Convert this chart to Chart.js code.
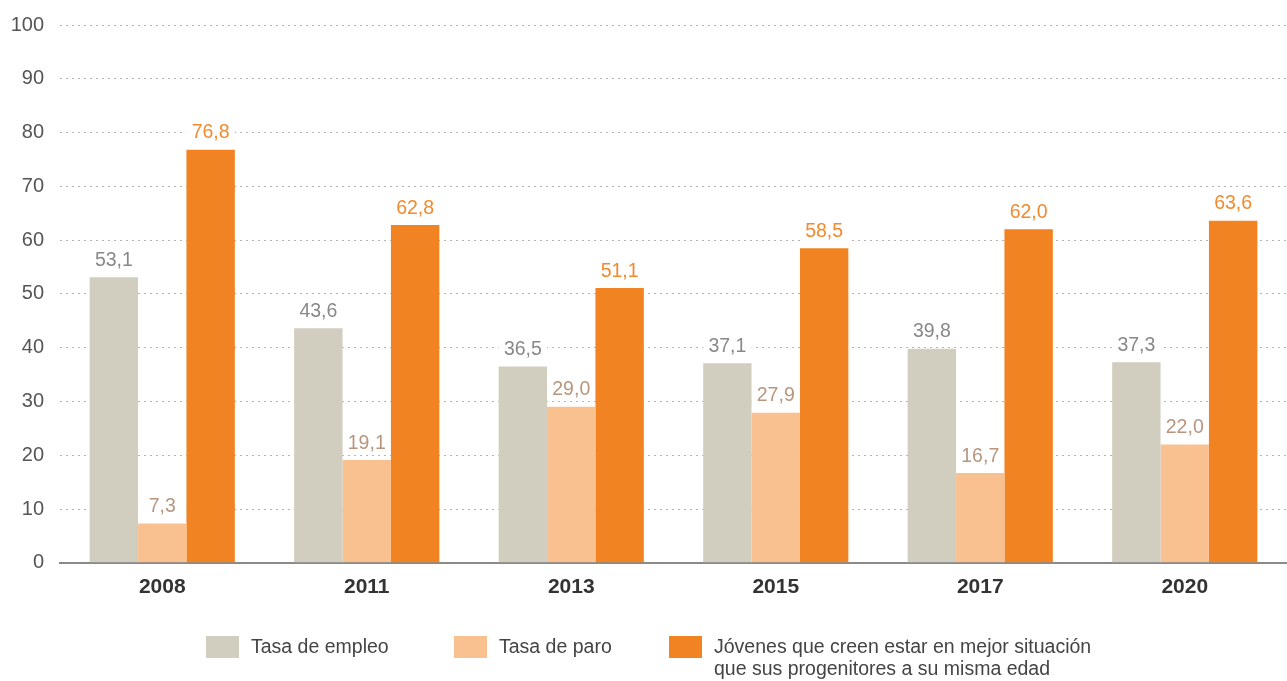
<!DOCTYPE html>
<html>
<head>
<meta charset="utf-8">
<script src="https://cdn.jsdelivr.net/npm/chart.js@4/dist/chart.umd.min.js"></script>
<style>
  html, body { margin: 0; padding: 0; background: #fff; }
  #wrap { width: 1287px; height: 681px; position: relative; }
</style>
</head>
<body>
<div id="wrap"><canvas id="chart"></canvas></div>
<script>
const years = ['2008', '2011', '2013', '2015', '2017', '2020'];
const empleo = [53.1, 43.6, 36.5, 37.1, 39.8, 37.3];
const paro = [7.3, 19.1, 29.0, 27.9, 16.7, 22.0];
const jovenes = [76.8, 62.8, 51.1, 58.5, 62.0, 63.6];

const seriesNames = [
  ['Tasa de empleo'],
  ['Tasa de paro'],
  ['Jóvenes que creen estar en mejor situación', 'que sus progenitores a su misma edad']
];
const barColors = ['#d1cec0', '#f9c18f', '#f28322'];
const labelColors = ['#888888', '#b8967e', '#f28a2e'];

const FONT = '"Liberation Sans", Arial, sans-serif';

// white boxes behind the value labels hide the dotted grid, text goes on top
const valueLabels = {
  id: 'valueLabels',
  beforeDatasetsDraw(chart) {
    const ctx = chart.ctx;
    ctx.save();
    ctx.fillStyle = '#fff';
    chart.data.datasets.forEach((ds, i) => {
      chart.getDatasetMeta(i).data.forEach((bar) => {
        ctx.fillRect(bar.x - bar.width / 2, bar.y - 29, bar.width, 23);
      });
    });
    ctx.restore();
  },
  afterDatasetsDraw(chart) {
    const ctx = chart.ctx;
    ctx.save();
    ctx.font = '19.5px ' + FONT;
    ctx.textAlign = 'center';
    ctx.textBaseline = 'bottom';
    chart.data.datasets.forEach((ds, i) => {
      chart.getDatasetMeta(i).data.forEach((bar, j) => {
        ctx.fillStyle = labelColors[i];
        ctx.fillText(ds.data[j].toFixed(1).replace('.', ','), bar.x, bar.y - 7);
      });
    });
    ctx.restore();
  }
};

// legend below the chart, third entry on two lines
const bottomLegend = {
  id: 'bottomLegend',
  afterDraw(chart) {
    const ctx = chart.ctx;
    const xs = [206, 454, 669];
    ctx.save();
    ctx.font = '19.5px ' + FONT;
    ctx.textBaseline = 'middle';
    ctx.textAlign = 'left';
    seriesNames.forEach((lines, i) => {
      ctx.fillStyle = barColors[i];
      ctx.fillRect(xs[i], 636, 33, 22);
      ctx.fillStyle = '#444';
      lines.forEach((t, k) => ctx.fillText(t, xs[i] + 45, 648 + k * 22));
    });
    ctx.restore();
  }
};

new Chart(document.getElementById('chart'), {
  type: 'bar',
  data: {
    labels: years,
    datasets: [
      { label: seriesNames[0].join(' '), data: empleo, backgroundColor: barColors[0] },
      { label: seriesNames[1].join(' '), data: paro, backgroundColor: barColors[1] },
      { label: seriesNames[2].join(' '), data: jovenes, backgroundColor: barColors[2] }
    ]
  },
  options: {
    responsive: true,
    maintainAspectRatio: false,
    animation: false,
    layout: { padding: { top: 25, right: 0, bottom: 77, left: 0 } },
    datasets: { bar: { barPercentage: 1, categoryPercentage: 0.71 } },
    plugins: {
      legend: { display: false },
      tooltip: { enabled: false }
    },
    scales: {
      x: {
        grid: { display: false },
        border: { display: true, color: '#8a8a8a', width: 2 },
        ticks: {
          color: '#333',
          font: { family: FONT, size: 21, weight: 'bold' },
          padding: 4
        }
      },
      y: {
        min: 0,
        max: 100,
        afterFit(scale) { scale.width = 60; },
        grid: { color: '#b5b5b5', lineWidth: 1, drawTicks: false },
        border: { display: false, dash: [2, 4] },
        ticks: {
          stepSize: 10,
          color: '#555',
          font: { family: FONT, size: 20, lineHeight: 0.5 },
          padding: 16
        }
      }
    }
  },
  plugins: [valueLabels, bottomLegend]
});
</script>
</body>
</html>
